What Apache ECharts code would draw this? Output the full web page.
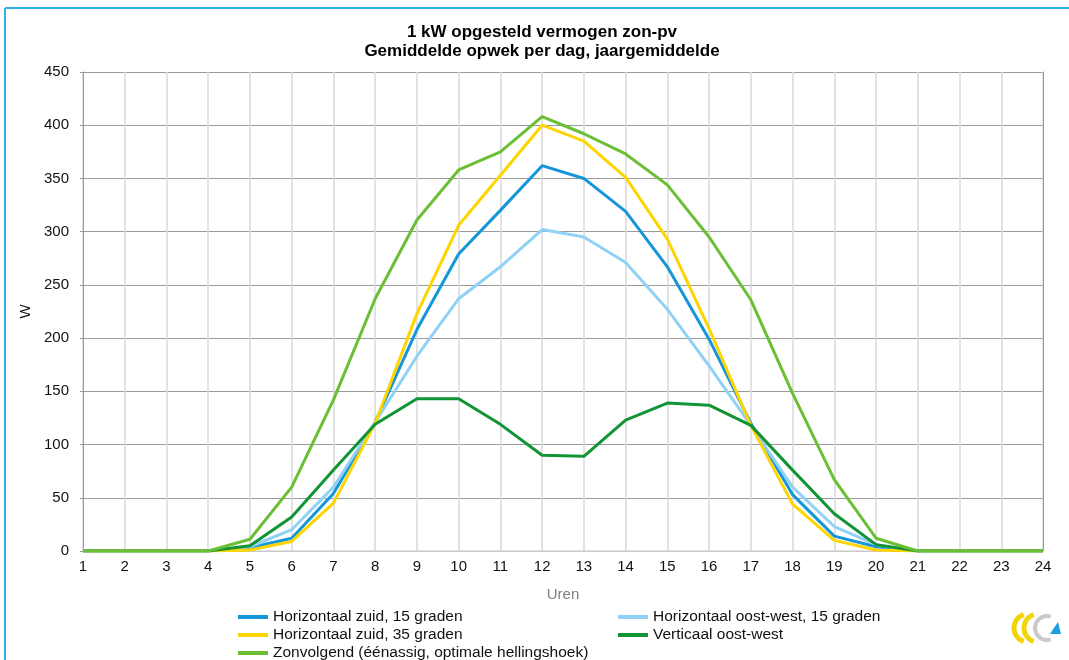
<!DOCTYPE html>
<html>
<head>
<meta charset="utf-8">
<script src="https://cdn.jsdelivr.net/npm/echarts@6/dist/echarts.min.js"></script>
<style>html,body{margin:0;padding:0;background:#fff}#c{width:1069px;height:660px}</style>
</head>
<body>
<div id="c"></div>
<script>
const hours = ['1','2','3','4','5','6','7','8','9','10','11','12','13','14','15','16','17','18','19','20','21','22','23','24'];
const yTicks = [0, 50, 100, 150, 200, 250, 300, 350, 400, 450];
const zuid15   = [0,0,0,0,3,12,54,121,208,279,320,362,350,319,267,199,120,53,14,4,0,0,0,0];
const ow15     = [0,0,0,0,4,20,60,121,183,237,267,302,295,271,227,174,118,60,23,6,0,0,0,0];
const zuid35   = [0,0,0,0,1,9,45,120,223,306,353,400,385,351,293,209,118,44,10,1,0,0,0,0];
const vertOW   = [0,0,0,0,5,32,76,119,143,143,119,90,89,123,139,137,118,76,35,6,0,0,0,0];
const zonvolg  = [0,0,0,0,11,60,142,237,311,358,375,408,392,373,344,295,236,148,67,12,0,0,0,0];
const seriesNames = [
  'Horizontaal zuid, 15 graden',
  'Horizontaal oost-west, 15 graden',
  'Horizontaal zuid, 35 graden',
  'Verticaal oost-west',
  'Zonvolgend (éénassig, optimale hellingshoek)'
];
const seriesData = [zuid15, ow15, zuid35, vertOW, zonvolg];
const colors = ['#1496d8', '#8fd2f6', '#ffd500', '#109434', '#6abf34'];

const legendPos = [[238, 609], [618, 609], [238, 627], [618, 627], [238, 645]];

const chart = echarts.init(document.getElementById('c'), null, {renderer: 'canvas'});
const font = 'Liberation Sans, Arial, sans-serif';
chart.setOption({
  animation: false,
  backgroundColor: '#fff',
  title: {
    text: '1 kW opgesteld vermogen zon-pv\nGemiddelde opwek per dag, jaargemiddelde',
    left: 542, top: 23, padding: 0, textAlign: 'center',
    textStyle: {fontFamily: font, fontSize: 17, fontWeight: 'bold', color: '#000', lineHeight: 19}
  },
  grid: {left: 83, right: 26, top: 72, bottom: 109},
  legend: legendPos.map((p, i) => ({
    left: p[0], top: p[1], padding: 0,
    itemWidth: 30, itemHeight: 4,
    icon: 'rect',
    data: [{name: seriesNames[i], icon: 'rect'}],
    textStyle: {fontFamily: font, fontSize: 15.5, color: '#111'}
  })),
  xAxis: {
    type: 'category', data: hours, boundaryGap: false,
    name: 'Uren', nameLocation: 'middle', nameGap: 36,
    nameTextStyle: {fontFamily: font, fontSize: 15, color: '#7f7f7f'},
    axisLine: {lineStyle: {color: '#d9d9d9', width: 1.5}},
    axisTick: {show: false},
    axisLabel: {fontFamily: font, fontSize: 15, color: '#111', margin: 8},
    splitLine: {show: true, lineStyle: {color: '#d9d9d9', width: 1.5}}
  },
  yAxis: [{
    type: 'value', min: 0, max: 450, interval: 50,
    name: 'W', nameLocation: 'middle', nameGap: 48,
    nameTextStyle: {fontFamily: font, fontSize: 15, color: '#111'},
    axisLine: {show: true, lineStyle: {color: '#9a9a9a', width: 1}},
    axisTick: {show: true, length: 3, lineStyle: {color: '#9a9a9a'}},
    axisLabel: {fontFamily: font, fontSize: 15, color: '#111', margin: 14,
      formatter: v => yTicks.includes(v) ? String(v) : ''},
    splitLine: {lineStyle: {color: '#9a9a9a', width: 1.2}}
  }, {
    type: 'value', min: 0, max: 450, interval: 50, position: 'right',
    axisLine: {show: true, lineStyle: {color: '#9a9a9a', width: 1}},
    axisTick: {show: false}, axisLabel: {show: false}, splitLine: {show: false}
  }],
  series: seriesData.map((d, i) => ({
    name: seriesNames[i], type: 'line', data: d,
    symbol: 'none', color: colors[i],
    lineStyle: {width: 3, color: colors[i]}
  })),
  graphic: [
    {type: 'line', shape: {x1: 5, y1: 8, x2: 1069, y2: 8}, style: {stroke: '#2eb1e6', lineWidth: 2}},
    {type: 'line', shape: {x1: 5, y1: 8, x2: 5, y2: 660}, style: {stroke: '#2eb1e6', lineWidth: 2}},
    {type: 'arc', shape: {cx: 1028, cy: 628, r: 14, startAngle: Math.PI * 0.6, endAngle: Math.PI * 1.4, clockwise: true}, style: {stroke: '#f2d40c', lineWidth: 5, fill: null}},
    {type: 'arc', shape: {cx: 1038, cy: 628, r: 14, startAngle: Math.PI * 0.6, endAngle: Math.PI * 1.4, clockwise: true}, style: {stroke: '#f2d40c', lineWidth: 5, fill: null}},
    {type: 'arc', shape: {cx: 1047, cy: 628, r: 12, startAngle: Math.PI * 0.4, endAngle: Math.PI * 1.6, clockwise: true}, style: {stroke: '#c9c9c9', lineWidth: 4, fill: null}},
    {type: 'polygon', shape: {points: [[1050, 634], [1061, 634], [1058, 622]]}, style: {fill: '#1a9ee0'}}
  ]
});
</script>
</body>
</html>
